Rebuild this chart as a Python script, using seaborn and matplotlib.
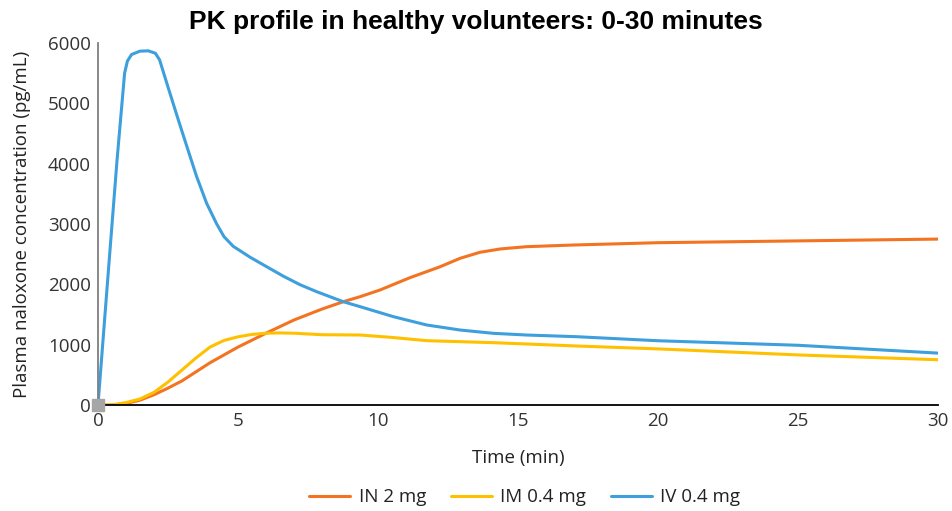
import matplotlib
matplotlib.use("Agg")
import matplotlib.pyplot as plt
import seaborn as sns
import pandas as pd

# Data
t_in = [0, 0.5, 1, 1.5, 2, 2.5, 3, 3.5, 4, 4.5, 5, 6, 7, 8, 8.76, 9.36, 10.07, 11.14, 12.21, 12.93, 13.64, 14.36, 15.3, 17.0, 20, 25, 30]
c_in = [0, 0, 25, 80, 170, 280, 400, 550, 700, 830, 960, 1190, 1409, 1590, 1712, 1795, 1906, 2110, 2290, 2431, 2531, 2586, 2624, 2652, 2690, 2720, 2750]

t_im = [0, 0.5, 1, 1.5, 2, 2.5, 3, 3.5, 4, 4.5, 5, 5.5, 6, 6.5, 7, 8, 9.36, 10.5, 11.74, 14.12, 17.1, 20, 25, 30]
c_im = [0, 0, 40, 100, 210, 380, 580, 780, 960, 1070, 1130, 1170, 1190, 1195, 1190, 1165, 1160, 1120, 1066, 1033, 978, 930, 830, 750]

t_iv = [0, 0.35, 0.68, 0.95, 1.05, 1.2, 1.5, 1.8, 2.05, 2.2, 2.5, 2.87, 3.17, 3.52, 3.88, 4.24, 4.5, 4.83, 5.43, 6.02, 6.62, 7.21, 7.81, 8.76, 9.36, 10.55, 11.74, 12.93, 14.12, 15.3, 17.1, 20, 25, 30]
c_iv = [0, 2100, 4060, 5500, 5700, 5810, 5865, 5870, 5830, 5720, 5270, 4724, 4290, 3790, 3343, 3000, 2790, 2630, 2450, 2293, 2135, 1995, 1878, 1712, 1630, 1464, 1326, 1243, 1188, 1160, 1132, 1065, 990, 860]

series = ["IN 2 mg", "IM 0.4 mg", "IV 0.4 mg"]
colors = ["#F47320", "#FFC000", "#3E9FDD"]

frames = []
for name, t, c in zip(series, [t_in, t_im, t_iv], [c_in, c_im, c_iv]):
    frames.append(pd.DataFrame({"Time": t, "Conc": c, "Series": name}))
df = pd.concat(frames, ignore_index=True)

sns.set_theme(style="white")
plt.rcParams["font.family"] = ["Open Sans", "DejaVu Sans"]

fig = plt.figure(figsize=(9.52, 5.11), dpi=100)
ax = fig.add_axes([98 / 952, 1 - 405 / 511, 840 / 952, 362 / 511])

sns.lineplot(data=df, x="Time", y="Conc", hue="Series", palette=dict(zip(series, colors)),
             linewidth=2.2, ax=ax, legend=True)
for ln in ax.lines:
    ln.set_solid_joinstyle("round")
    ln.set_solid_capstyle("round")
ax.plot([0], [0], marker="s", markersize=8, color="#A6A6A6", zorder=5, clip_on=False)

ax.set_xlim(0, 30)
ax.set_ylim(0, 6000)
ax.set_xticks([0, 5, 10, 15, 20, 25, 30])
ax.set_yticks([0, 1000, 2000, 3000, 4000, 5000, 6000])
ax.tick_params(axis="both", labelsize=13.5, colors="#333333", length=0, pad=5)
ax.set_xlabel("Time (min)", fontsize=13.5, color="#222222", labelpad=14)
ax.set_ylabel("Plasma naloxone concentration (pg/mL)", fontsize=13.5, color="#222222", labelpad=12)

for s in ["top", "right"]:
    ax.spines[s].set_visible(False)
ax.spines["left"].set_color("#7F7F7F")
ax.spines["left"].set_linewidth(1.3)
ax.spines["bottom"].set_color("#000000")
ax.spines["bottom"].set_linewidth(1.3)

fig.text(0.5, 1 - 22 / 511, "PK profile in healthy volunteers: 0-30 minutes",
         ha="center", va="center", fontsize=19, fontweight="bold", family="Liberation Sans",
         color="black")

handles, labels = ax.get_legend_handles_labels()
ax.legend(handles, labels, loc="center", bbox_to_anchor=(0.508, -0.255), ncol=3,
          frameon=False, fontsize=13.5, handlelength=2.2, handletextpad=0.45,
          columnspacing=1.3, labelcolor="#222222")

fig.savefig("out.png", dpi=100)
